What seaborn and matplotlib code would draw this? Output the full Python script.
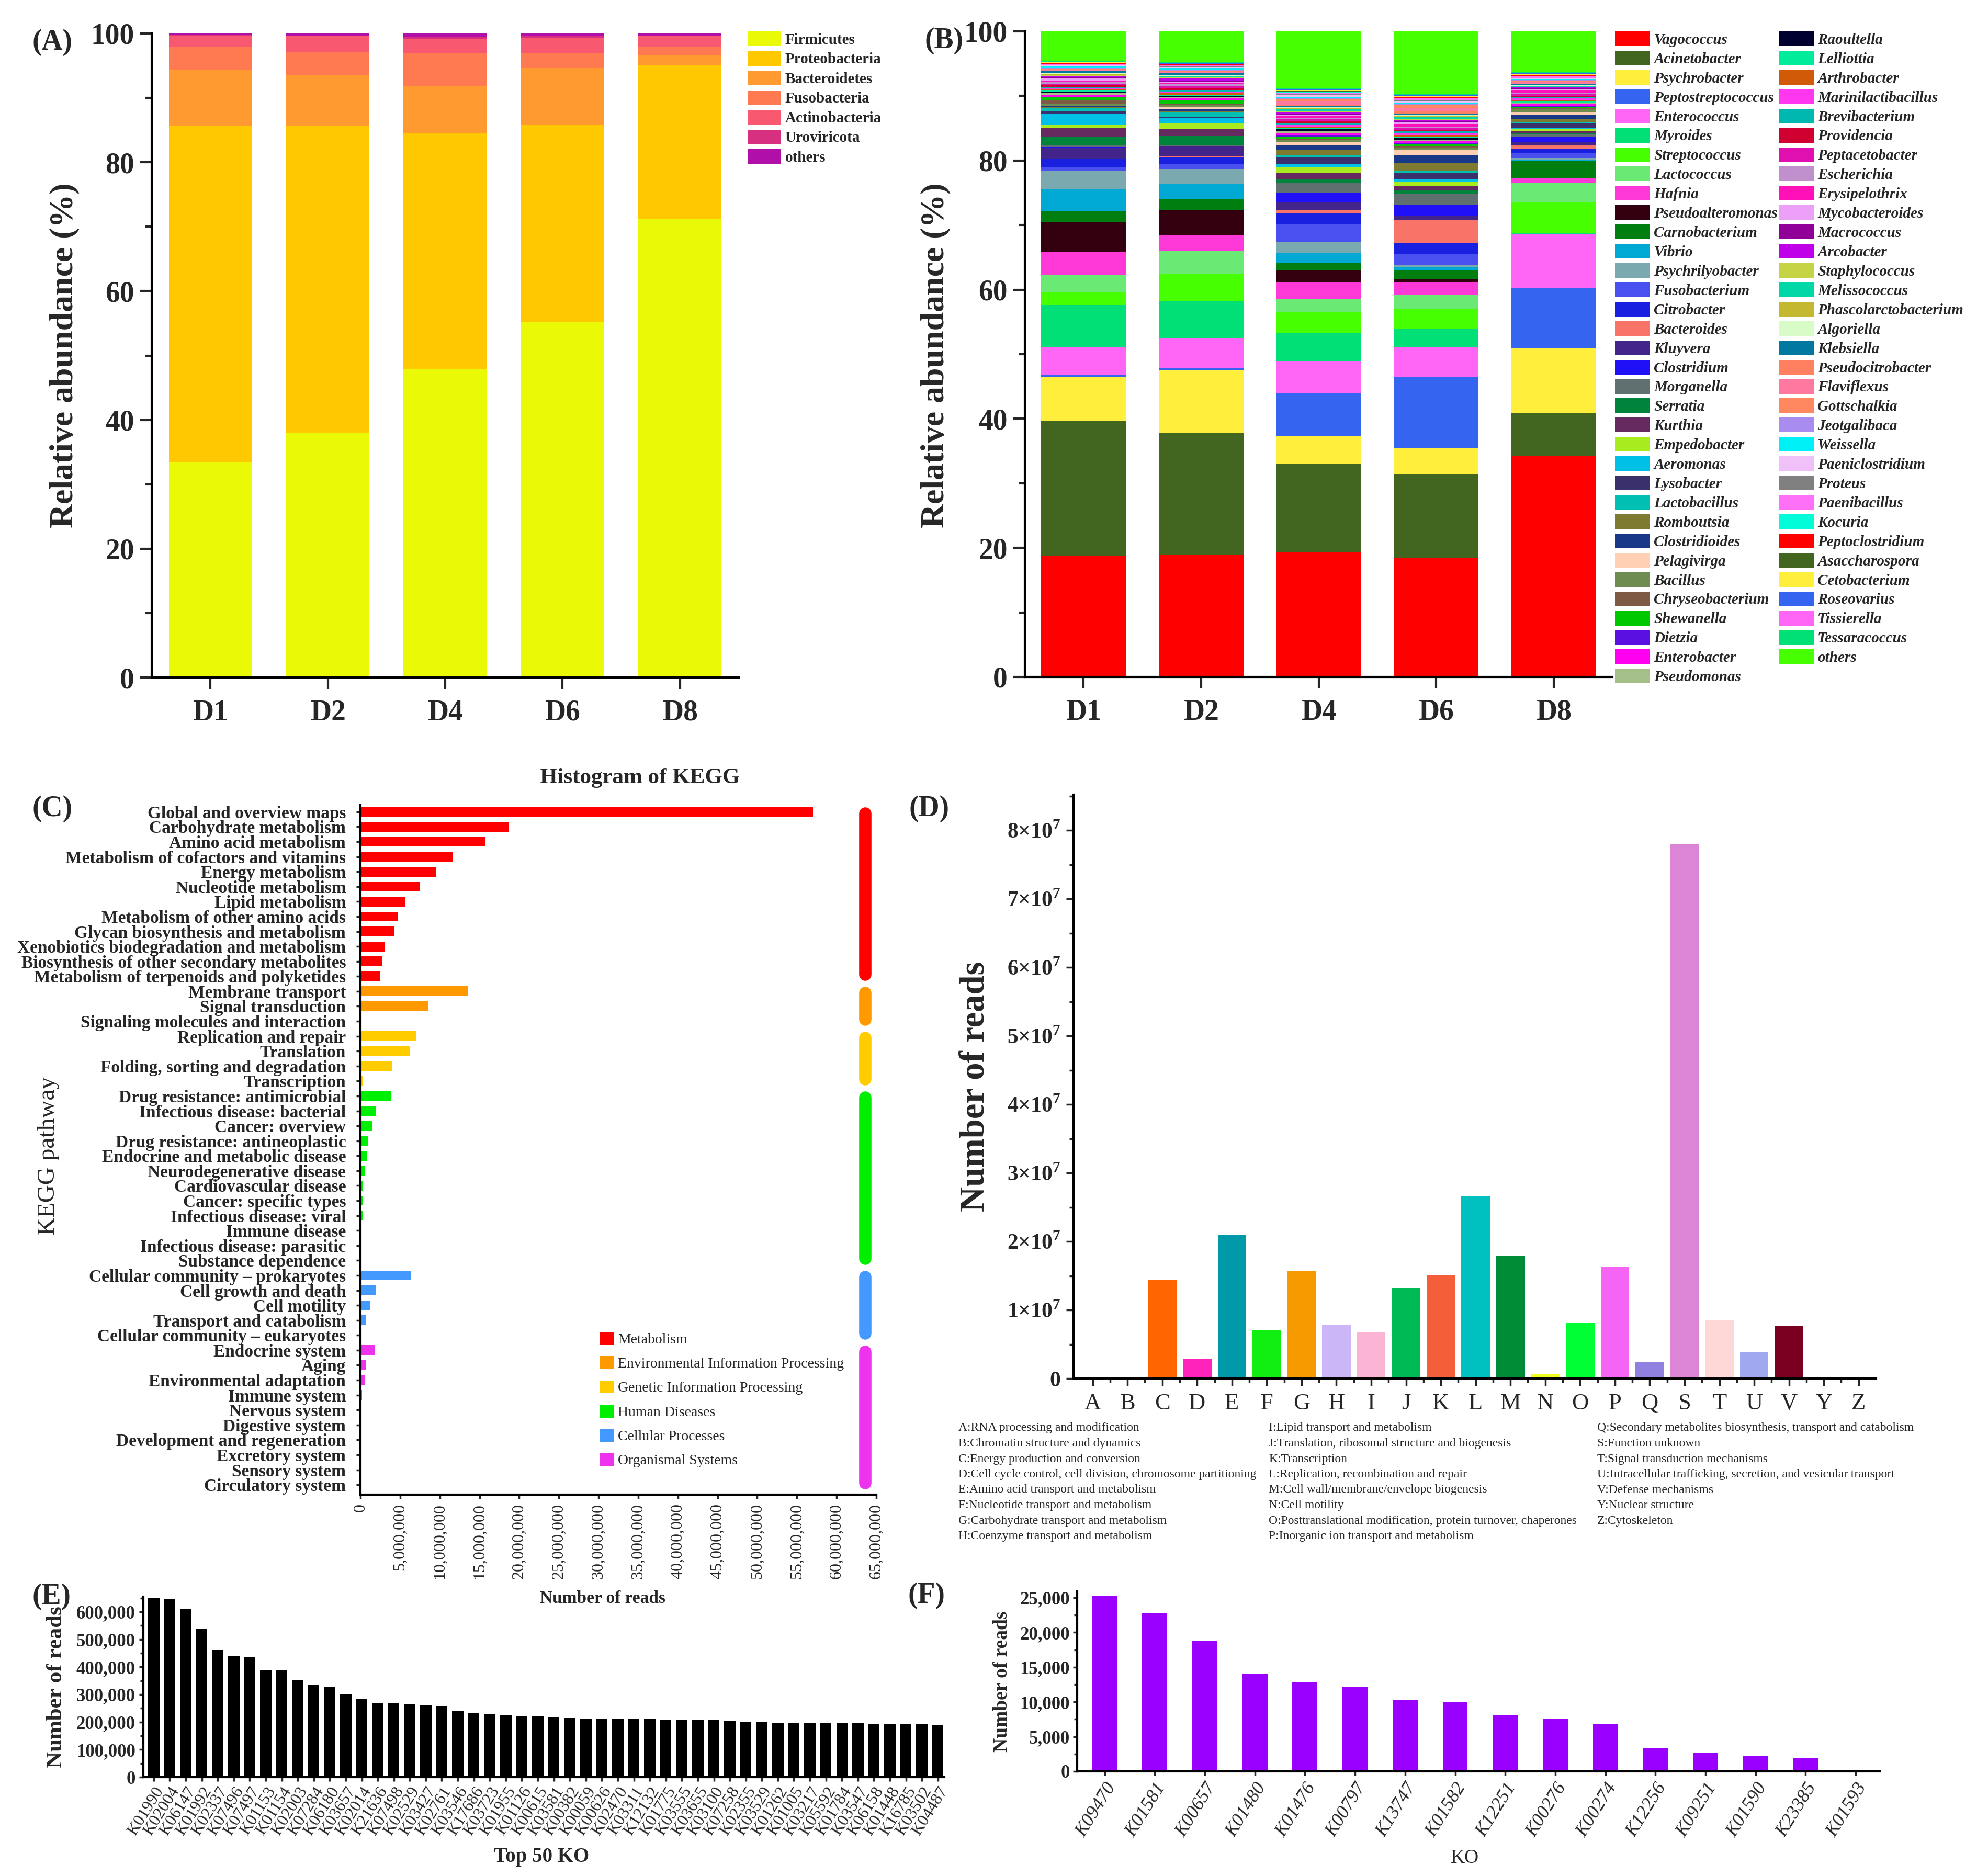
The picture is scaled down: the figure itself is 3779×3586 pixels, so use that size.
import numpy as np
import pandas as pd
import seaborn as sns
import matplotlib.pyplot as plt
from matplotlib.patches import Patch
from matplotlib.ticker import MultipleLocator, FuncFormatter

W, H = 3779, 3586

# ---------------- (A) phylum level ----------------
samples = ['D1', 'D2', 'D4', 'D6', 'D8']
phyla = ['Firmicutes', 'Proteobacteria', 'Bacteroidetes', 'Fusobacteria',
         'Actinobacteria', 'Uroviricota', 'others']
phylum_colors = ['#EAF905', '#FFC800', '#FF9A30', '#FF7A50', '#F85870', '#D83080', '#B010A8']
firmicutes = [33.5, 37.9, 47.9, 55.2, 71.2]
proteobacteria = [52.1, 47.7, 36.7, 30.6, 23.9]
bacteroidetes = [8.7, 8.0, 7.3, 8.8, 1.5]
fusobacteria = [3.6, 3.5, 5.1, 2.4, 1.3]
actinobacteria = [1.7, 2.5, 2.2, 2.3, 1.7]
uroviricota = [0.2, 0.1, 0.2, 0.3, 0.1]
phylum_others = [0.2, 0.3, 0.6, 0.4, 0.3]

# ---------------- (B) genus level ----------------
genera = ['Vagococcus', 'Acinetobacter', 'Psychrobacter', 'Peptostreptococcus', 'Enterococcus',
          'Myroides', 'Streptococcus', 'Lactococcus', 'Hafnia', 'Pseudoalteromonas',
          'Carnobacterium', 'Vibrio', 'Psychrilyobacter', 'Fusobacterium', 'Citrobacter',
          'Bacteroides', 'Kluyvera', 'Clostridium', 'Morganella', 'Serratia',
          'Kurthia', 'Empedobacter', 'Aeromonas', 'Lysobacter', 'Lactobacillus',
          'Romboutsia', 'Clostridioides', 'Pelagivirga', 'Bacillus', 'Chryseobacterium',
          'Shewanella', 'Dietzia', 'Enterobacter', 'Pseudomonas',
          'Raoultella', 'Lelliottia', 'Arthrobacter', 'Marinilactibacillus', 'Brevibacterium',
          'Providencia', 'Peptacetobacter', 'Escherichia', 'Erysipelothrix', 'Mycobacteroides',
          'Macrococcus', 'Arcobacter', 'Staphylococcus', 'Melissococcus', 'Phascolarctobacterium',
          'Algoriella', 'Klebsiella', 'Pseudocitrobacter', 'Flaviflexus', 'Gottschalkia',
          'Jeotgalibaca', 'Weissella', 'Paeniclostridium', 'Proteus', 'Paenibacillus',
          'Kocuria', 'Peptoclostridium', 'Asaccharospora', 'Cetobacterium', 'Roseovarius',
          'Tissierella', 'Tessaracoccus', 'others']
genus_colors = ['#FF0000', '#426620', '#FFEE3C', '#3464F0', '#FF66F5', '#00E076', '#46FF00', '#6AEA74', '#FF38D8', '#340010',
                '#007E10', '#00A8D4', '#7AAAB0', '#4A50F0', '#1A20E0', '#F87468', '#42248A', '#2010F8', '#607070', '#00843C',
                '#662A60', '#A8EC20', '#00C0E8', '#3A306C', '#00C0B4', '#7E7A30', '#183888', '#FFD0B4', '#6E8C50', '#7E5A44',
                '#00C800', '#5A10E0', '#FF00F0', '#A4C088',
                '#000030', '#00EC9A', '#D05A08', '#FF38F0', '#00B8B0', '#D00030', '#E010B0', '#C090CC', '#FF10B8', '#ECA0F8',
                '#900098', '#C000E8', '#C4D444', '#00D8A8', '#C4B830', '#D8FCC8', '#0078A0', '#FF8060', '#FF78A0', '#FF8860',
                '#A88CF0', '#00F0F8', '#F0C0F8', '#808080', '#FF70F8', '#00FCD8', '#FF0000', '#426620', '#FFEE3C', '#3464F0',
                '#FF66F5', '#00E076', '#46FF00']
genus_d1 = [18.7, 21.0, 6.8, 0.3, 4.3, 6.6, 2.0, 2.6, 3.6, 4.6,
            1.7, 3.5, 2.8, 0.5, 1.3, 0.1, 1.7, 0.1, 0.2, 1.4,
            1.3, 0.5, 1.8, 0.3, 0.5, 0.2, 0.1, 0.1, 0.3, 0.6,
            0.4, 0.1, 0.2, 0.3,
            0.3, 0.2, 0.1, 0.2, 0.2, 0.3, 0.2, 0.3, 0.2, 0.3,
            0.2, 0.2, 0.1, 0.1, 0.1, 0.2, 0.2, 0.1, 0.2, 0.1,
            0.1, 0.3, 0.1, 0.1, 0.1, 0.1, 0.05, 0.05, 0.1, 0.05,
            0.05, 0.1, 4.6]
genus_d2 = [18.9, 19.0, 9.8, 0.3, 4.6, 5.8, 4.2, 3.5, 2.4, 4.0,
            1.7, 2.3, 2.3, 0.8, 1.1, 0.1, 1.5, 0.1, 0.2, 1.4,
            1.0, 0.9, 0.8, 0.3, 0.6, 0.2, 0.3, 0.3, 0.4, 0.2,
            0.5, 0.1, 0.2, 0.2,
            0.2, 0.2, 0.3, 0.2, 0.2, 0.3, 0.3, 0.3, 0.2, 0.2,
            0.2, 0.4, 0.1, 0.1, 0.1, 0.2, 0.2, 0.1, 0.1, 0.1,
            0.2, 0.3, 0.2, 0.1, 0.1, 0.1, 0.05, 0.05, 0.1, 0.05,
            0.05, 0.1, 4.8]
genus_d4 = [19.3, 13.7, 4.3, 6.6, 4.9, 4.4, 3.3, 2.0, 2.6, 1.9,
            1.1, 1.5, 1.7, 2.8, 1.7, 0.5, 1.1, 1.5, 1.5, 0.7,
            0.9, 0.9, 0.5, 1.0, 0.3, 0.9, 0.7, 0.5, 0.3, 0.2,
            0.3, 0.2, 0.4, 0.2,
            0.4, 0.2, 0.2, 0.3, 0.2, 0.3, 0.3, 0.2, 0.3, 0.2,
            0.2, 0.2, 0.2, 0.2, 0.2, 0.2, 0.2, 0.2, 0.5, 0.3,
            0.2, 0.2, 0.2, 0.2, 0.2, 0.1, 0.1, 0.1, 0.1, 0.1,
            0.1, 0.1, 8.8]
genus_d6 = [18.4, 12.9, 4.1, 11.0, 4.7, 2.7, 3.1, 2.2, 2.0, 0.5,
            1.4, 0.4, 0.4, 1.6, 1.7, 3.6, 0.7, 1.7, 1.7, 0.5,
            0.6, 0.8, 0.3, 1.0, 0.3, 1.2, 1.3, 0.7, 0.4, 0.3,
            0.2, 0.2, 0.3, 0.2,
            0.3, 0.2, 0.2, 0.4, 0.2, 0.3, 0.3, 0.2, 0.4, 0.2,
            0.2, 0.2, 0.2, 0.2, 0.2, 0.2, 0.2, 0.3, 0.6, 0.4,
            0.2, 0.2, 0.2, 0.2, 0.2, 0.1, 0.1, 0.1, 0.1, 0.1,
            0.1, 0.1, 9.7]
genus_d8 = [34.3, 6.6, 10.0, 9.3, 8.4, 0.1, 4.9, 2.9, 0.7, 0.1,
            2.6, 0.2, 0.3, 0.8, 0.6, 0.5, 0.5, 0.9, 0.3, 0.3,
            0.3, 0.3, 0.2, 0.6, 0.2, 0.5, 0.6, 0.5, 0.4, 0.2,
            0.2, 0.1, 0.3, 0.2,
            0.1, 0.2, 0.1, 0.4, 0.1, 0.2, 0.3, 0.2, 0.4, 0.2,
            0.1, 0.1, 0.1, 0.1, 0.1, 0.1, 0.1, 0.1, 0.3, 0.2,
            0.1, 0.1, 0.1, 0.1, 0.2, 0.1, 0.1, 0.1, 0.1, 0.1,
            0.1, 0.1, 6.3]

# ---------------- (C) KEGG level 2 ----------------
kegg_pathways = ['Global and overview maps', 'Carbohydrate metabolism', 'Amino acid metabolism',
                 'Metabolism of cofactors and vitamins', 'Energy metabolism', 'Nucleotide metabolism',
                 'Lipid metabolism', 'Metabolism of other amino acids', 'Glycan biosynthesis and metabolism',
                 'Xenobiotics biodegradation and metabolism', 'Biosynthesis of other secondary metabolites',
                 'Metabolism of terpenoids and polyketides',
                 'Membrane transport', 'Signal transduction', 'Signaling molecules and interaction',
                 'Replication and repair', 'Translation', 'Folding, sorting and degradation', 'Transcription',
                 'Drug resistance: antimicrobial', 'Infectious disease: bacterial', 'Cancer: overview',
                 'Drug resistance: antineoplastic', 'Endocrine and metabolic disease', 'Neurodegenerative disease',
                 'Cardiovascular disease', 'Cancer: specific types', 'Infectious disease: viral',
                 'Immune disease', 'Infectious disease: parasitic', 'Substance dependence',
                 'Cellular community \u2013 prokaryotes', 'Cell growth and death', 'Cell motility',
                 'Transport and catabolism', 'Cellular community \u2013 eukaryotes',
                 'Endocrine system', 'Aging', 'Environmental adaptation', 'Immune system', 'Nervous system',
                 'Digestive system', 'Development and regeneration', 'Excretory system', 'Sensory system',
                 'Circulatory system']
kegg_reads = [57.0e6, 18.7e6, 15.7e6, 11.6e6, 9.5e6, 7.5e6, 5.6e6, 4.7e6, 4.3e6, 3.0e6, 2.7e6, 2.5e6,
              13.5e6, 8.5e6, 0.15e6,
              7.0e6, 6.2e6, 4.0e6, 0.35e6,
              3.9e6, 2.0e6, 1.5e6, 0.9e6, 0.8e6, 0.6e6, 0.3e6, 0.3e6, 0.3e6, 0.1e6, 0.08e6, 0.05e6,
              6.4e6, 2.0e6, 1.2e6, 0.7e6, 0.1e6,
              1.8e6, 0.65e6, 0.5e6, 0.2e6, 0.15e6, 0.05e6, 0.04e6, 0.03e6, 0.03e6, 0.03e6]
kegg_group_names = ['Metabolism', 'Environmental Information Processing', 'Genetic Information Processing',
                    'Human Diseases', 'Cellular Processes', 'Organismal Systems']
kegg_group_sizes = [12, 3, 4, 12, 5, 10]
kegg_group_colors = ['#FF0000', '#FF9900', '#FFCC00', '#00EE00', '#4499FF', '#EE33EE']

# ---------------- (D) COG ----------------
cog_letters = ['A', 'B', 'C', 'D', 'E', 'F', 'G', 'H', 'I', 'J', 'K', 'L', 'M', 'N', 'O', 'P',
               'Q', 'S', 'T', 'U', 'V', 'Y', 'Z']
cog_reads = [0.0, 0.0, 1.44e7, 0.28e7, 2.09e7, 0.71e7, 1.57e7, 0.78e7, 0.68e7, 1.32e7, 1.51e7, 2.66e7,
             1.79e7, 0.07e7, 0.81e7, 1.63e7, 0.24e7, 7.80e7, 0.85e7, 0.39e7, 0.76e7, 0.0, 0.0]
cog_colors = ['#888888', '#888888', '#FF6600', '#FF22BB', '#0099A8', '#11EE11', '#F79A00', '#CBB6F8',
              '#FCB4D4', '#00BB55', '#F45E38', '#00C0C0', '#008B36', '#EEFF22', '#00FF33', '#F564F5',
              '#9080E0', '#DC84D6', '#FDD8D6', '#A0A8F0', '#7A0020', '#888888', '#888888']
cog_desc_1 = ['A:RNA processing and modification', 'B:Chromatin structure and dynamics',
              'C:Energy production and conversion',
              'D:Cell cycle control, cell division, chromosome partitioning',
              'E:Amino acid transport and metabolism', 'F:Nucleotide transport and metabolism',
              'G:Carbohydrate transport and metabolism', 'H:Coenzyme transport and metabolism']
cog_desc_2 = ['I:Lipid transport and metabolism', 'J:Translation, ribosomal structure and biogenesis',
              'K:Transcription', 'L:Replication, recombination and repair',
              'M:Cell wall/membrane/envelope biogenesis', 'N:Cell motility',
              'O:Posttranslational modification, protein turnover, chaperones',
              'P:Inorganic ion transport and metabolism']
cog_desc_3 = ['Q:Secondary metabolites biosynthesis, transport and catabolism', 'S:Function unknown',
              'T:Signal transduction mechanisms',
              'U:Intracellular trafficking, secretion, and vesicular transport', 'V:Defense mechanisms',
              'Y:Nuclear structure', 'Z:Cytoskeleton']

# ---------------- (E) top 50 KO ----------------
top_ko = ['K01990', 'K02004', 'K06147', 'K01992', 'K02337', 'K07496', 'K07497', 'K01153', 'K01154', 'K02003',
          'K07284', 'K06180', 'K03657', 'K02014', 'K21636', 'K07498', 'K02529', 'K03427', 'K02761', 'K03546',
          'K17686', 'K03723', 'K01955', 'K01126', 'K00615', 'K03581', 'K00382', 'K00059', 'K00626', 'K02470',
          'K03311', 'K12132', 'K01775', 'K03555', 'K03655', 'K03100', 'K07258', 'K02355', 'K03529', 'K01262',
          'K01005', 'K03217', 'K05592', 'K01784', 'K03547', 'K06158', 'K01448', 'K16785', 'K03502', 'K04487']
top_ko_reads = [651000, 648000, 612000, 540000, 462000, 440000, 437000, 390000, 387000, 351000,
                336000, 329000, 300000, 283000, 268000, 268000, 265000, 262000, 258000, 240000,
                233000, 229000, 225000, 222000, 222000, 218000, 215000, 211000, 211000, 211000,
                211000, 211000, 208000, 208000, 208000, 208000, 204000, 200000, 200000, 197000,
                197000, 197000, 197000, 197000, 197000, 193000, 193000, 193000, 193000, 190000]

# ---------------- (F) selected KO ----------------
sel_ko = ['K09470', 'K01581', 'K00657', 'K01480', 'K01476', 'K00797', 'K13747', 'K01582',
          'K12251', 'K00276', 'K00274', 'K12256', 'K09251', 'K01590', 'K23385', 'K01593']
sel_ko_reads = [25200, 22770, 18830, 14000, 12830, 12120, 10270, 10000,
                8020, 7580, 6850, 3320, 2740, 2150, 1880, 40]

# ---------------- style ----------------
sns.set_style('ticks')
plt.rcParams['font.family'] = ['Liberation Serif', 'DejaVu Serif']
plt.rcParams['mathtext.fontset'] = 'custom'
plt.rcParams['mathtext.rm'] = 'Liberation Serif'
plt.rcParams['mathtext.bf'] = 'Liberation Serif:bold'
plt.rcParams['axes.linewidth'] = 3
plt.rcParams['axes.edgecolor'] = 'black'

fig = plt.figure(figsize=(W / 100, H / 100), dpi=100)


def add_ax(x1, y1, x2, y2):
    ax = fig.add_axes([x1 / W, 1 - y2 / H, (x2 - x1) / W, (y2 - y1) / H])
    sns.despine(ax=ax)
    return ax


def ftext(x, y, s, **kw):
    fig.text(x / W, 1 - y / H, s, **kw)


def bold_labels(labels):
    for lab in labels:
        lab.set_fontweight('bold')


def stacked(ax, table, colors, width):
    bottom = np.zeros(table.shape[1])
    for name, col in zip(table.index, colors):
        vals = table.loc[name].values
        ax.bar(range(table.shape[1]), vals, bottom=bottom, width=width, color=col, linewidth=0)
        bottom += vals


def abundance_axes(ax):
    ax.set_xlim(-0.5, 4.5)
    ax.set_ylim(0, 100)
    ax.set_xticks(range(len(samples)))
    ax.set_xticklabels(samples)
    ax.yaxis.set_major_locator(MultipleLocator(20))
    ax.yaxis.set_minor_locator(MultipleLocator(10))
    ax.tick_params(axis='both', which='major', labelsize=40, length=16, width=3)
    ax.tick_params(axis='y', which='major', pad=8)
    ax.tick_params(axis='x', which='major', pad=14)
    ax.tick_params(axis='y', which='minor', length=9, width=3)
    bold_labels(ax.get_xticklabels() + ax.get_yticklabels())


# (A)
phylum_table = pd.DataFrame([firmicutes, proteobacteria, bacteroidetes, fusobacteria,
                             actinobacteria, uroviricota, phylum_others],
                            index=phyla, columns=samples)
axA = add_ax(290, 64, 1412, 1295)
stacked(axA, phylum_table, phylum_colors, 0.71)
abundance_axes(axA)
ftext(123, 679, 'Relative abundance (%)', rotation=90, ha='center', va='center',
      fontsize=46, fontweight='bold')
ftext(62, 55, '(A)', fontsize=40, fontweight='bold', va='top')
fig.legend(handles=[Patch(facecolor=c, linewidth=0, label=n) for n, c in zip(phyla, phylum_colors)],
           loc='upper left', bbox_to_anchor=(1429 / W, 1 - 60 / H), frameon=False,
           prop={'weight': 'bold', 'size': 21}, handlelength=2.2, handleheight=1.1,
           labelspacing=0.26, handletextpad=0.25, borderpad=0, borderaxespad=0)

# (B)
genus_table = pd.DataFrame(np.array([genus_d1, genus_d2, genus_d4, genus_d6, genus_d8]).T,
                           index=genera, columns=samples)
genus_table = genus_table / genus_table.sum() * 100
axB = add_ax(1959, 60, 3082, 1294)
stacked(axB, genus_table, genus_colors, 0.72)
abundance_axes(axB)
ftext(1788, 679, 'Relative abundance (%)', rotation=90, ha='center', va='center',
      fontsize=46, fontweight='bold')
ftext(1768, 52, '(B)', fontsize=40, fontweight='bold', va='top')
genus_handles = [Patch(facecolor=c, linewidth=0, label=n) for n, c in zip(genera, genus_colors)]
for handles, x0 in [(genus_handles[:34], 3087), (genus_handles[34:], 3400)]:
    fig.legend(handles=handles, loc='upper left', bbox_to_anchor=(x0 / W, 1 - 60 / H), frameon=False,
               prop={'weight': 'bold', 'style': 'italic', 'size': 21}, handlelength=2.3,
               handleheight=1.1, labelspacing=0.24, handletextpad=0.25, borderpad=0, borderaxespad=0)

# (C)
kegg_groups = np.repeat(kegg_group_names, kegg_group_sizes)
kegg_df = pd.DataFrame({'pathway': kegg_pathways, 'reads': kegg_reads, 'group': kegg_groups})
axC = add_ax(689, 1539, 1675, 2857)
sns.barplot(data=kegg_df, x='reads', y='pathway', hue='group', orient='h',
            palette=dict(zip(kegg_group_names, kegg_group_colors)), dodge=False, legend=False,
            width=0.66, linewidth=0, saturation=1, errorbar=None, ax=axC)
axC.set_xlim(0, 65e6)
axC.set_ylim(len(kegg_pathways) - 0.34, -0.45)
axC.set_xlabel('')
axC.set_ylabel('')
axC.xaxis.set_major_locator(MultipleLocator(5e6))
axC.xaxis.set_major_formatter(FuncFormatter(lambda v, p: f'{v:,.0f}'))
axC.tick_params(axis='x', labelsize=23, rotation=90, length=6, width=2.5, pad=6)
axC.tick_params(axis='y', labelsize=24, length=6, width=2.5, pad=14)
bold_labels(axC.get_yticklabels())
start = 0
for name, n, col in zip(kegg_group_names, kegg_group_sizes, kegg_group_colors):
    axC.plot([63.6e6, 63.6e6], [start + 0.11, start + n - 1 - 0.11], color=col, lw=17,
             solid_capstyle='round', clip_on=False)
    start += n
ftext(1223, 1487, 'Histogram of KEGG', ha='center', va='center', fontsize=31, fontweight='bold')
ftext(1152, 3056, 'Number of reads', ha='center', va='center', fontsize=24, fontweight='bold')
ftext(93, 2209, 'KEGG pathway', rotation=90, ha='center', va='center', fontsize=34)
ftext(62, 1520, '(C)', fontsize=40, fontweight='bold', va='top')
fig.legend(handles=[Patch(facecolor=c, linewidth=0, label=n) for n, c in zip(kegg_group_names, kegg_group_colors)],
           loc='upper left', bbox_to_anchor=(1146 / W, 1 - 2546 / H), frameon=False,
           prop={'size': 20}, handlelength=1.0, handleheight=1.0, labelspacing=0.66,
           handletextpad=0.25, borderpad=0, borderaxespad=0)

# (D)
cog_df = pd.DataFrame({'cog': cog_letters, 'reads': cog_reads})
axD = add_ax(2052, 1519, 3586, 2635)
sns.barplot(data=cog_df, x='cog', y='reads', hue='cog', palette=cog_colors, legend=False,
            width=0.82, linewidth=0, saturation=1, errorbar=None, ax=axD)
axD.set_xlim(-0.55, len(cog_letters) - 0.5)
axD.set_ylim(0, 8.52e7)
axD.set_xlabel('')
axD.set_ylabel('')
axD.yaxis.set_major_locator(MultipleLocator(1e7))
axD.yaxis.set_minor_locator(MultipleLocator(0.5e7))
axD.yaxis.set_major_formatter(FuncFormatter(
    lambda v, p: '0' if v == 0 else f'{int(round(v / 1e7))}\u00d710' + r'$^{\mathbf{7}}$'))
axD.set_xticks(np.arange(len(cog_letters) - 1) + 0.5, minor=True)
axD.tick_params(axis='y', which='major', labelsize=30, length=10, width=2.5, pad=8)
axD.tick_params(axis='y', which='minor', length=6, width=2.5)
axD.tick_params(axis='x', which='major', labelsize=32, length=10, width=2.5, pad=10)
axD.tick_params(axis='x', which='minor', length=6, width=2.5)
bold_labels(axD.get_yticklabels())
ftext(1864, 2077, 'Number of reads', rotation=90, ha='center', va='center', fontsize=48,
      fontweight='bold')
ftext(1738, 1520, '(D)', fontsize=40, fontweight='bold', va='top')
for col_x, descs in [(1832, cog_desc_1), (2425, cog_desc_2), (3053, cog_desc_3)]:
    for i, d in enumerate(descs):
        ftext(col_x, 2730 + i * 29.5, d, fontsize=17, va='center')

# (E)
axE = add_ax(274, 3052, 1805, 3397)
sns.barplot(x=top_ko, y=top_ko_reads, color='black', width=0.7, linewidth=0, saturation=1,
            errorbar=None, ax=axE)
axE.set_xlim(-0.65, len(top_ko) - 0.6)
axE.set_ylim(0, 655000)
axE.yaxis.set_major_locator(MultipleLocator(100000))
axE.yaxis.set_minor_locator(MultipleLocator(50000))
axE.yaxis.set_major_formatter(FuncFormatter(lambda v, p: f'{v:,.0f}'))
axE.set_xticks(range(len(top_ko)))
axE.set_xticklabels(top_ko, rotation=58, ha='right', rotation_mode='anchor', fontsize=23)
axE.tick_params(axis='y', which='major', labelsize=25, length=6, width=2.5, pad=5)
axE.tick_params(axis='y', which='minor', length=4, width=2.5)
axE.tick_params(axis='x', length=6, width=2.5, pad=4)
bold_labels(axE.get_yticklabels())
ftext(108, 3225, 'Number of reads', rotation=90, ha='center', va='center', fontsize=31,
      fontweight='bold')
ftext(1035, 3550, 'Top 50 KO', ha='center', va='center', fontsize=28, fontweight='bold')
ftext(62, 3026, '(E)', fontsize=40, fontweight='bold', va='top')

# (F)
axF = add_ax(2059, 3042, 3593, 3386)
sns.barplot(x=sel_ko, y=sel_ko_reads, color='#9900FF', width=0.5, linewidth=0, saturation=1,
            errorbar=None, ax=axF)
axF.set_xlim(-0.55, len(sel_ko) - 0.52)
axF.set_ylim(0, 25900)
axF.yaxis.set_major_locator(MultipleLocator(5000))
axF.yaxis.set_minor_locator(MultipleLocator(2500))
axF.yaxis.set_major_formatter(FuncFormatter(lambda v, p: f'{v:,.0f}'))
axF.set_xticks(range(len(sel_ko)))
axF.set_xticklabels(sel_ko, rotation=58, ha='right', rotation_mode='anchor', fontsize=26,
                    style='italic')
axF.tick_params(axis='y', which='major', labelsize=25, length=6, width=2.5, pad=4)
axF.tick_params(axis='y', which='minor', length=4, width=2.5)
axF.tick_params(axis='x', length=6, width=2.5, pad=6)
bold_labels(axF.get_yticklabels())
ftext(1916, 3214, 'Number of reads', rotation=90, ha='center', va='center', fontsize=27,
      fontweight='bold')
ftext(2800, 3552, 'KO', ha='center', va='center', fontsize=27)
ftext(1736, 3024, '(F)', fontsize=40, fontweight='bold', va='top')

fig.savefig('out.png', dpi=100)
